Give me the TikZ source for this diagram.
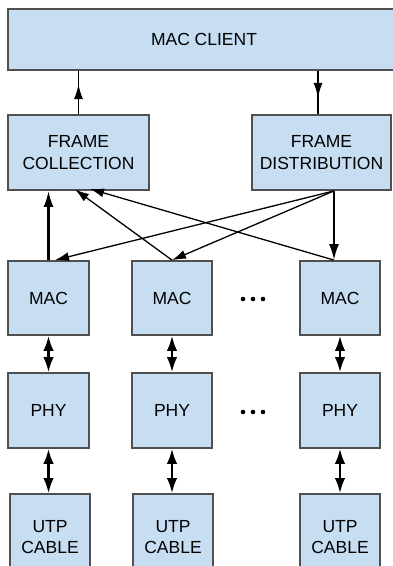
\documentclass[tikz,border=0pt]{standalone}
\usepackage{fontspec}
\setmainfont{Liberation Sans}
\usetikzlibrary{arrows.meta,calc}

\definecolor{boxfill}{RGB}{199,222,242}
\definecolor{boxline}{RGB}{80,80,80}

\tikzset{
  blk/.style={draw=boxline, fill=boxfill, line width=1.8pt, align=center,
    inner sep=0pt, font=\fontsize{17.5}{21.5}\selectfont},
  thin/.style={line width=1.3pt, -{Latex[length=14pt,width=9pt]}},
  thick/.style={line width=2.2pt, -{Latex[length=16pt,width=10pt]}},
  both/.style={line width=2.2pt, {Latex[length=15pt,width=10.5pt]}-{Latex[length=15pt,width=10.5pt]}},
  half/.style={line width=1.6pt, -{Latex[length=15pt,width=9pt]}},
}

\begin{document}
\begin{tikzpicture}[x=1pt, y=-1pt, line cap=butt]

  %% ════ 方框 ════
  \node[blk, minimum width=392, minimum height=61] (client) at (204,39.5) {MAC CLIENT};
  \node[blk, minimum width=141, minimum height=75] (fc) at (78.5,152.5) {FRAME\\COLLECTION};
  \node[blk, minimum width=139, minimum height=75] (fd) at (321.5,152.5) {FRAME\\DISTRIBUTION};

  \node[blk, minimum width=81, minimum height=74] (mac1) at (48.5,298) {MAC};
  \node[blk, minimum width=80, minimum height=74] (mac2) at (172,298) {MAC};
  \node[blk, minimum width=80, minimum height=74] (mac3) at (340,298) {MAC};

  \node[blk, minimum width=81, minimum height=75] (phy1) at (48.5,410.5) {PHY};
  \node[blk, minimum width=80, minimum height=75] (phy2) at (172,410.5) {PHY};
  \node[blk, minimum width=80, minimum height=75] (phy3) at (340,410.5) {PHY};

  \node[blk, minimum width=80, minimum height=86] (utp1) at (50,537) {UTP\\CABLE};
  \node[blk, minimum width=80, minimum height=86] (utp2) at (173,537) {UTP\\CABLE};
  \node[blk, minimum width=80, minimum height=86] (utp3) at (340,537) {UTP\\CABLE};

  %% ════ 省略号 ════
  \foreach \yy in {299,412}
    \foreach \dx in {-10,0,10}
      \fill (253+\dx,\yy) circle (2.3);

  %% ════ 端点 ════
  \coordinate (fdtop) at ($(fd.north)+(-3.5,0)$);
  \coordinate (fdout) at ($(fd.south)+(12.5,0)$);
  \coordinate (m3in)  at ($(mac3.north)+(-6,0)$);
  \coordinate (fcin2) at ($(fc.south)+(-3.5,-1.5)$);
  \coordinate (fcin3) at ($(fc.south)+(11.5,-2)$);
  \coordinate (m1in)  at ($(mac1.north)+(6.5,0)$);

  %% ════ MAC CLIENT 上下（箭头在线中间）════
  \draw[line width=1.6pt] (fc.north) -- (fc.north |- client.south);
  \draw[half] (fc.north) -- ++(0,-30);
  \draw[line width=1.6pt] (fdtop |- client.south) -- (fdtop);
  \draw[half] (fdtop |- client.south) -- ++(0,27);

  %% ════ 交叉连线 ════
  \draw[thick] (mac1.north) -- (mac1.north |- fc.south);
  \draw[thin] (mac2.north) -- (fcin2);
  \draw[thin] (m3in) -- (fcin3);
  \draw[thin] (fdout) -- (m1in);
  \draw[thin] (fdout) -- (mac2.north);
  \draw[thick] (fdout) -- (m3in);

  %% ════ 双向箭头 ════
  \foreach \i in {1,2,3} {
    \draw[both] (mac\i.south) -- (phy\i.north);
    \draw[both] (phy\i.south) -- (phy\i.south |- utp\i.north);
  }

  \pgfresetboundingbox
  \path[use as bounding box] (0,0) rectangle (392,566);
\end{tikzpicture}
\end{document}
